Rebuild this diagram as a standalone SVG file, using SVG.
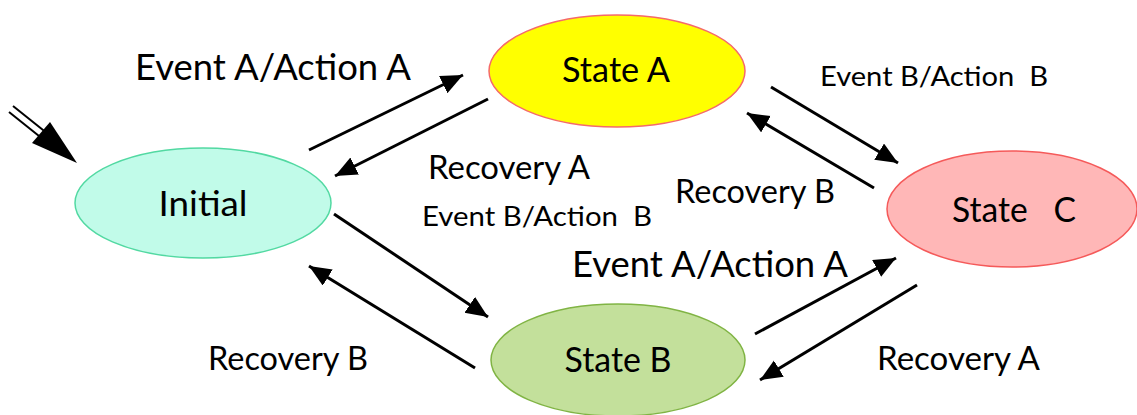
<svg xmlns="http://www.w3.org/2000/svg" width="1137" height="415" viewBox="0 0 1137 415">
  <defs>
    <marker id="head" markerUnits="userSpaceOnUse" markerWidth="24" markerHeight="20" refX="22" refY="9.5" orient="auto">
      <path d="M0,0 L22,9.5 L0,19 Z" fill="#000"/>
    </marker>
  </defs>
  <style>
    text { font-family: Lato, "Open Sans", sans-serif; fill: #000; }
    .node text { text-anchor: middle; font-size: 34px; }
    .lbl { font-size: 32px; }
    .lbl-big { font-size: 36px; }
    .lbl-sm { font-size: 27px; }
    .conn line { stroke: #000; stroke-width: 3; marker-end: url(#head); }
  </style>
  <rect width="1137" height="415" fill="#fff"/>

  <!-- states -->
  <g id="initial" class="node">
    <ellipse cx="203" cy="203" rx="128" ry="55" fill="#c1fbe9" stroke="#52d9a2" stroke-width="1.5"/>
    <text x="203" y="216" textLength="89" lengthAdjust="spacingAndGlyphs">Initial</text>
  </g>
  <g id="state-a" class="node">
    <ellipse cx="617" cy="71" rx="128" ry="56" fill="#ffff00" stroke="#f56a6a" stroke-width="1.5"/>
    <text x="616" y="82" textLength="108" lengthAdjust="spacingAndGlyphs">State A</text>
  </g>
  <g id="state-b" class="node">
    <ellipse cx="618" cy="360" rx="127" ry="56" fill="#c3e09b" stroke="#80b444" stroke-width="1.5"/>
    <text x="618" y="372" textLength="107" lengthAdjust="spacingAndGlyphs">State B</text>
  </g>
  <g id="state-c" class="node">
    <ellipse cx="1012" cy="209" rx="125" ry="58" fill="#ffb7b7" stroke="#f55a5a" stroke-width="1.5"/>
    <text x="1014" y="222" xml:space="preserve" textLength="124" lengthAdjust="spacingAndGlyphs">State   C</text>
  </g>

  <!-- transitions -->
  <g id="connectors" class="conn">
    <line x1="309" y1="150" x2="463" y2="75"/>
    <line x1="488" y1="99" x2="335" y2="176"/>
    <line x1="771" y1="87" x2="898" y2="163"/>
    <line x1="874" y1="188" x2="747" y2="113"/>
    <line x1="334" y1="214" x2="488" y2="317"/>
    <line x1="475" y1="368" x2="309" y2="266"/>
    <line x1="755" y1="334" x2="896" y2="258"/>
    <line x1="917" y1="285" x2="760" y2="380"/>
    <!-- entry arrow into Initial -->
    <g id="entry">
      <line x1="9" y1="112" x2="44" y2="140" style="stroke-width:2;marker-end:none"/>
      <line x1="13" y1="106" x2="48" y2="134" style="stroke-width:2;marker-end:none"/>
      <path d="M32,143 L50,122 L77,163 Z" fill="#000"/>
    </g>
  </g>

  <!-- transition labels -->
  <g id="labels">
    <text class="lbl-big" x="135" y="80" textLength="276" lengthAdjust="spacingAndGlyphs">Event A/Action A</text>
    <text class="lbl-sm" x="820" y="86" xml:space="preserve" textLength="228" lengthAdjust="spacingAndGlyphs">Event B/Action  B</text>
    <text class="lbl" x="428" y="179" textLength="162" lengthAdjust="spacingAndGlyphs">Recovery A</text>
    <text class="lbl" x="675" y="203" textLength="160" lengthAdjust="spacingAndGlyphs">Recovery B</text>
    <text class="lbl-sm" x="422" y="226" xml:space="preserve" textLength="230" lengthAdjust="spacingAndGlyphs">Event B/Action  B</text>
    <text class="lbl-big" x="572" y="277" textLength="276" lengthAdjust="spacingAndGlyphs">Event A/Action A</text>
    <text class="lbl" x="208" y="370" textLength="160" lengthAdjust="spacingAndGlyphs">Recovery B</text>
    <text class="lbl" x="877" y="370" textLength="163" lengthAdjust="spacingAndGlyphs">Recovery A</text>
  </g>
</svg>
